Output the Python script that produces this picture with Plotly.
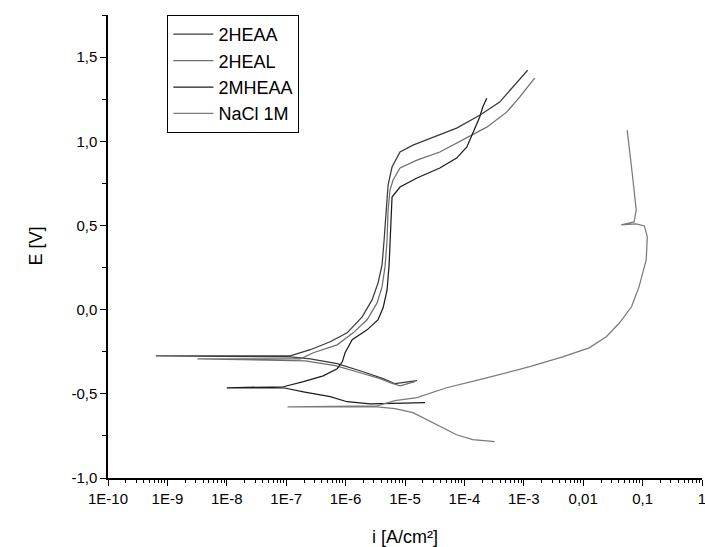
import plotly.graph_objects as go

# ---- data (current density i [A/cm2], potential E [V]) ----
hea_a_i = [1.59e-5, 1.0e-5, 6.79e-6, 4.28e-6, 1.97e-6, 7.2e-7, 2.55e-7, 1.17e-7, 6.4e-10, 1.17e-7,
           2.55e-7, 5.5e-7, 1.06e-6, 1.90e-6, 2.79e-6, 3.52e-6, 4.11e-6, 4.45e-6, 4.80e-6, 5.19e-6,
           6.05e-6, 8.24e-6, 1.36e-5, 2.95e-5, 7.4e-5, 1.81e-4, 3.93e-4, 6.49e-4, 1.16e-3]
hea_a_E = [-0.422, -0.434, -0.440, -0.410, -0.369, -0.321, -0.292, -0.280, -0.274, -0.274,
           -0.238, -0.191, -0.138, -0.043, 0.058, 0.159, 0.266, 0.414, 0.592, 0.740,
           0.847, 0.936, 0.977, 1.025, 1.078, 1.155, 1.233, 1.321, 1.422]

hea_l_i = [1.47e-5, 8.24e-6, 5.60e-6, 3.81e-6, 1.76e-6, 6.7e-7, 2.1e-7, 3.2e-9, 1.73e-7, 2.86e-7,
           7.2e-7, 1.34e-6, 2.30e-6, 3.39e-6, 4.11e-6, 4.61e-6, 4.99e-6, 5.19e-6, 5.60e-6, 6.30e-6,
           8.24e-6, 1.59e-5, 3.86e-5, 1.10e-4, 2.38e-4, 5.14e-4, 8.51e-4, 1.52e-3]
hea_l_E = [-0.428, -0.452, -0.434, -0.410, -0.375, -0.333, -0.304, -0.292, -0.292, -0.256,
           -0.209, -0.138, -0.060, 0.040, 0.135, 0.254, 0.414, 0.592, 0.711, 0.770,
           0.841, 0.888, 0.936, 1.019, 1.084, 1.173, 1.262, 1.375]

mhea_i = [2.17e-5, 6.30e-6, 2.59e-6, 1.06e-6, 5.5e-7, 1.95e-7, 9.0e-8, 1.0e-8, 9.0e-8, 1.95e-7,
          4.2e-7, 7.2e-7, 8.8e-7, 9.8e-7, 1.29e-6, 2.30e-6, 3.52e-6, 4.28e-6, 4.99e-6, 5.40e-6,
          5.60e-6, 5.82e-6, 6.05e-6, 8.24e-6, 1.59e-5, 3.86e-5, 7.4e-5, 1.10e-4, 1.38e-4, 1.81e-4,
          2.04e-4, 2.38e-4]
mhea_E = [-0.553, -0.559, -0.559, -0.547, -0.517, -0.488, -0.464, -0.464, -0.458, -0.428,
          -0.393, -0.351, -0.310, -0.256, -0.179, -0.120, -0.060, 0.011, 0.117, 0.266,
          0.414, 0.592, 0.669, 0.728, 0.782, 0.841, 0.900, 0.966, 1.049, 1.144,
          1.203, 1.256]

nacl_i = [3.24e-4, 1.38e-4, 7.4e-5, 3.47e-5, 1.36e-5, 6.79e-6, 3.39e-6, 1.05e-7, 3.39e-6, 6.79e-6,
          1.59e-5, 5.0e-5, 1.81e-4, 1.26e-3, 4.5e-3, 0.0126, 0.0245, 0.041, 0.065, 0.087,
          0.115, 0.12, 0.107, 0.078, 0.0437, 0.072, 0.078, 0.068, 0.055]
nacl_E = [-0.784, -0.772, -0.743, -0.683, -0.612, -0.588, -0.577, -0.577, -0.571, -0.541,
          -0.523, -0.464, -0.416, -0.339, -0.280, -0.227, -0.161, -0.078, 0.017, 0.135,
          0.295, 0.432, 0.497, 0.509, 0.503, 0.521, 0.592, 0.788, 1.066]

series_names = ["2HEAA", "2HEAL", "2MHEAA", "NaCl 1M"]

x_tickvals = [1e-10, 1e-9, 1e-8, 1e-7, 1e-6, 1e-5, 1e-4, 1e-3, 1e-2, 1e-1, 1]
x_ticktext = ["1E-10", "1E-9", "1E-8", "1E-7", "1E-6", "1E-5", "1E-4", "1E-3", "0,01", "0,1", "1"]
y_tickvals = [-1.0, -0.5, 0.0, 0.5, 1.0, 1.5]
y_ticktext = ["-1,0", "-0,5", "0,0", "0,5", "1,0", "1,5"]

colors = ["#3a3a3a", "#6e6e6e", "#1c1c1c", "#7a7a7a"]
FONT = "Liberation Sans, Arial, sans-serif"

fig = go.Figure()
for name, xs, ys, c in zip(series_names,
                           [hea_a_i, hea_l_i, mhea_i, nacl_i],
                           [hea_a_E, hea_l_E, mhea_E, nacl_E], colors):
    fig.add_trace(go.Scatter(x=xs, y=ys, mode="lines", name=name,
                             line=dict(color=c, width=1.25)))

minor_x = [m * 10.0 ** d for d in range(-10, 0) for m in range(2, 10)]

fig.update_layout(
    width=705, height=547,
    margin=dict(l=108, r=3, t=15, b=69, autoexpand=False),
    paper_bgcolor="white", plot_bgcolor="white",
    font=dict(family=FONT, color="black"),
    showlegend=True,
    legend=dict(x=0.1, y=1.0, xanchor="left", yanchor="top",
                bordercolor="black", borderwidth=1, bgcolor="white",
                font=dict(size=18, family=FONT, color="black"),
                itemwidth=40, tracegroupgap=0),
)
fig.update_xaxes(type="log", range=[-10, 0], showline=True, linecolor="black", linewidth=1.5,
                 mirror=False, showgrid=False, zeroline=False,
                 tickmode="array", tickvals=x_tickvals, ticktext=x_ticktext,
                 ticks="outside", ticklen=6, tickwidth=1.2, tickcolor="black",
                 ticklabeloverflow="allow",
                 tickfont=dict(size=15, family=FONT),
                 minor=dict(tickmode="array", tickvals=minor_x, ticks="outside",
                            ticklen=3, tickwidth=1, tickcolor="black", showgrid=False))
fig.update_yaxes(range=[-1.0, 1.75], showline=True, linecolor="black", linewidth=1.5,
                 mirror=False, showgrid=False, zeroline=False,
                 tickmode="array", tickvals=y_tickvals, ticktext=y_ticktext,
                 ticks="outside", ticklen=6, tickwidth=1.2, tickcolor="black",
                 tickfont=dict(size=15, family=FONT),
                 minor=dict(dtick=0.25, tick0=0, ticks="outside", ticklen=4,
                            tickwidth=1, tickcolor="black", showgrid=False))

fig.add_annotation(text="i [A/cm²]", xref="paper", yref="paper", x=0.5, y=0,
                   xanchor="center", yanchor="middle", yshift=-59, showarrow=False,
                   font=dict(size=18, family=FONT))
fig.add_annotation(text="E [V]", xref="paper", yref="paper", x=0, y=0.5,
                   xanchor="center", yanchor="middle", xshift=-73, textangle=-90,
                   showarrow=False, font=dict(size=18, family=FONT))

fig.write_html("out.html")
